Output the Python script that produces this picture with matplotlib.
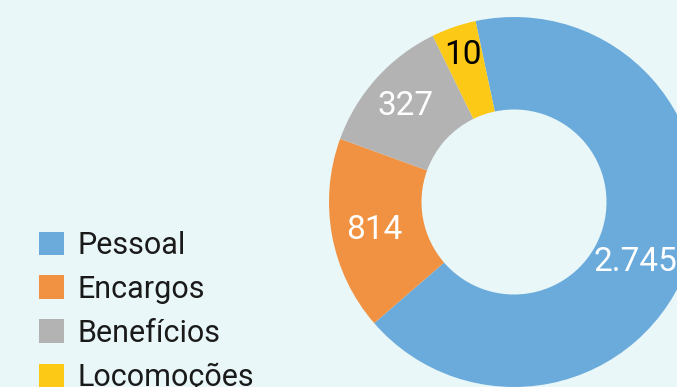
import matplotlib.pyplot as plt
import numpy as np

# categorias e valores mostrados
categorias = ["Pessoal", "Encargos", "Benefícios", "Locomoções"]
valores = ["2.745", "814", "327", "10"]
# fatias como aparecem no desenho (%), não proporcionais aos valores
fatias = [66.9, 16.9, 12.2, 3.9]

cores = ["#6aabdb", "#f09241", "#b3b3b3", "#fcc917"]
cor_texto = ["white", "white", "white", "black"]
raio_texto = [0.73, 0.77, 0.79, 0.85]
desvio_ang = [-7, 0, 0, 0]
fundo = "#e9f7f8"

fig = plt.figure(figsize=(6.77, 3.87), dpi=100, facecolor=fundo)
# eixo quadrado: centro (514, 202) px, raio 185 px
ax = fig.add_axes([329 / 677, 0 / 387, 370 / 677, 370 / 387])
ax.set_facecolor(fundo)

wedges, _ = ax.pie(fatias, colors=cores, startangle=102, counterclock=False,
                   wedgeprops=dict(width=0.5, linewidth=0))
ax.set_xlim(-1, 1)
ax.set_ylim(-1, 1)
ax.set_aspect("equal")
ax.axis("off")

for w, txt, cor, r, d in zip(wedges, valores, cor_texto, raio_texto, desvio_ang):
    ang = np.deg2rad((w.theta1 + w.theta2) / 2 + d)
    ax.text(r * np.cos(ang), r * np.sin(ang) - 0.01, txt, ha="center", va="center",
            color=cor, fontsize=24, family="Roboto")

leg = fig.legend(wedges, categorias, loc="upper left",
                 bbox_to_anchor=(39 / 677, 1 - 231 / 387),
                 frameon=False, borderpad=0, borderaxespad=0,
                 handlelength=0.82, handleheight=0.82, handletextpad=0.45,
                 labelspacing=0.49,
                 prop=dict(family="Roboto", size=22))
for t in leg.get_texts():
    t.set_color("#1a1a1a")

fig.savefig("out.png", dpi=100, facecolor=fundo)
